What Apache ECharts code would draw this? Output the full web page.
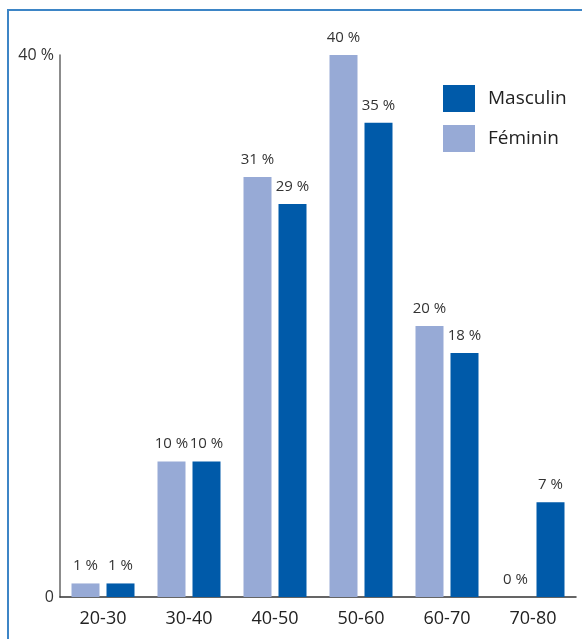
<!DOCTYPE html>
<html>
<head>
<meta charset="utf-8">
<script src="https://cdn.jsdelivr.net/npm/echarts@6/dist/echarts.min.js"></script>
<style>
html,body{margin:0;padding:0;background:#fff;}
#c{width:582px;height:639px;}
</style>
</head>
<body>
<div id="c"></div>
<script>
const categories = ['20-30', '30-40', '40-50', '50-60', '60-70', '70-80'];
const feminin = [1, 10, 31, 40, 20, 0];
const masculin = [1, 10, 29, 35, 18, 7];
const yTicks = [0, 40];

const FONT = '"Open Sans", "Noto Sans", sans-serif';
const chart = echarts.init(document.getElementById('c'));
const labelCfg = {
  show: true,
  position: 'top',
  distance: 10,
  color: '#333',
  fontSize: 15,
  fontFamily: FONT,
  formatter: p => p.value + ' %'
};
chart.setOption({
  animation: false,
  textStyle: { fontFamily: FONT },
  graphic: [{
    type: 'rect',
    shape: { x: 8, y: 10, width: 700, height: 700 },
    style: { fill: 'none', stroke: '#3d85c6', lineWidth: 2 }
  }],
  grid: { left: 60, right: 6, top: 55, bottom: 42, containLabel: false },
  legend: {
    orient: 'vertical',
    left: 438,
    top: 80,
    itemWidth: 32,
    itemHeight: 27,
    itemGap: 13,
    data: ['Masculin', 'Féminin'],
    textStyle: { fontSize: 19, color: '#222', fontFamily: FONT, padding: [0, 0, 0, 8] },
    icon: 'rect'
  },
  xAxis: {
    type: 'category',
    data: categories,
    axisLine: { lineStyle: { color: '#333', width: 1.5 } },
    axisTick: { show: false },
    axisLabel: { fontSize: 18, color: '#222', margin: 13, fontFamily: FONT }
  },
  yAxis: {
    type: 'value',
    min: 0,
    max: 40,
    interval: 40,
    splitLine: { show: false },
    axisLine: { show: true, lineStyle: { color: '#666', width: 1.5 } },
    axisTick: { show: false },
    axisLabel: {
      fontSize: 16, color: '#333', margin: 6, fontFamily: FONT,
      formatter: v => (yTicks.includes(v) ? (v === 0 ? '0' : v + ' %') : '')
    }
  },
  series: [
    {
      name: 'Féminin',
      type: 'bar',
      data: feminin,
      barWidth: 28,
      barGap: '25%',
      itemStyle: { color: '#97aad6' },
      label: labelCfg
    },
    {
      name: 'Masculin',
      type: 'bar',
      data: masculin,
      barWidth: 28,
      barGap: '25%',
      itemStyle: { color: '#005aa9' },
      label: labelCfg
    }
  ]
});
</script>
</body>
</html>
